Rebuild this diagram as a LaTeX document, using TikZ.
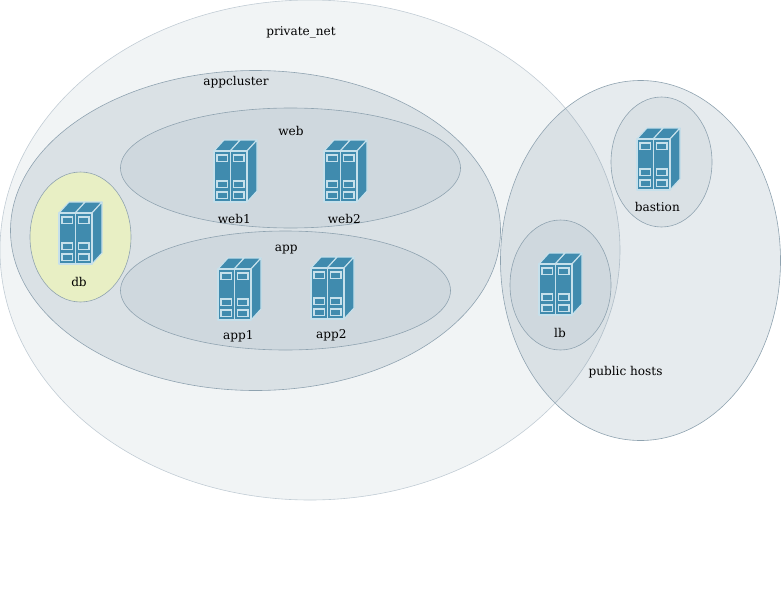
\documentclass[tikz,border=0pt]{standalone}
\usepackage{fontspec}
\setmainfont{DejaVu Serif}
\usetikzlibrary{shapes.geometric}
\definecolor{zone}{HTML}{4F6E84}
\definecolor{zoneline}{HTML}{8FA3B0}
\definecolor{dbfill}{HTML}{E8EFC4}
\definecolor{srvblue}{HTML}{408BAE}
\definecolor{srvline}{HTML}{C6E0EB}

\begin{document}
\begin{tikzpicture}[
  x=1pt, y=-1pt,
  font=\fontsize{12.1}{14}\selectfont,
  zn/.style={draw=zoneline, line width=0.6pt, ellipse, inner sep=0pt, fill=zone, fill opacity=0.14},
  hostzn/.style={zn, minimum width=101pt, minimum height=130pt},
  lbl/.style={text=black, inner sep=0pt},
  srv/.style={draw=srvline, fill=srvblue, line width=1.1pt, line join=round},
  slot/.style={draw=srvline, fill=srvblue, line width=1.5pt},
  server/.pic={
    \draw[srv] (16,0) -- (26,-11) -- (43,-11) -- (33,0) -- cycle;
    \draw[srv] (0,0) -- (10,-11) -- (26,-11) -- (16,0) -- cycle;
    \draw[srv] (33,0) -- (43,-11) -- (43,40) -- (33,51) -- cycle;
    \foreach \px in {0,16.5} {
      \draw[srv] (\px,0) rectangle ++(16.5,51);
      \foreach \py in {4,30,41} \draw[slot] (\px+3,\py) rectangle ++(10.5,6.5);
    }
  }
]
\useasboundingbox (0,0) rectangle (781,613);

\node[zn, draw=zoneline!55, fill opacity=0.08, minimum width=620pt, minimum height=500pt] (privatenet) at (310,250) {};
\node[zn, minimum width=280pt, minimum height=360pt] (publichosts) at (640.5,260.5) {};
\node[zn, minimum width=490pt, minimum height=320pt] (appcluster) at (255.5,230.5) {};
\node[zn, fill opacity=0.08, minimum width=340pt, minimum height=120pt] (webzn) at (290.5,168) {};
\node[zn, fill opacity=0.08, minimum width=330pt, minimum height=119pt] (appzn) at (285.5,290.5) {};
\node[hostzn, fill=dbfill, fill opacity=1] (dbzn) at (80.5,237) {};
\node[hostzn, fill opacity=0.08] (bastionzn) at (661.5,162) {};
\node[hostzn, fill opacity=0.08] (lbzn) at (560.5,285) {};

\foreach \x/\y in {214/151, 324/151, 218/269, 311/268, 59/213, 637/139, 539/264}
  \pic at (\x,\y) {server};

\node[lbl] (tprivate) at (301,32.6) {private\_net};
\node[lbl] (tappcluster) at (236,82.6) {appcluster};
\node[lbl] (tweb) at (291,130.6) {web};
\node[lbl] (tweba) at (234.3,218.6) {web1};
\node[lbl] (twebb) at (344.3,218.6) {web2};
\node[lbl] (tapp) at (286.3,249.6) {app};
\node[lbl] (tappa) at (238.3,336.6) {app1};
\node[lbl] (tappb) at (331.3,335.6) {app2};
\node[lbl] (tdb) at (79,281.6) {db};
\node[lbl] (tbastion) at (657.3,206.6) {bastion};
\node[lbl] (tlb) at (560,332.6) {lb};
\node[lbl] (tpublic) at (625.5,372.6) {public hosts};
\end{tikzpicture}
\end{document}
